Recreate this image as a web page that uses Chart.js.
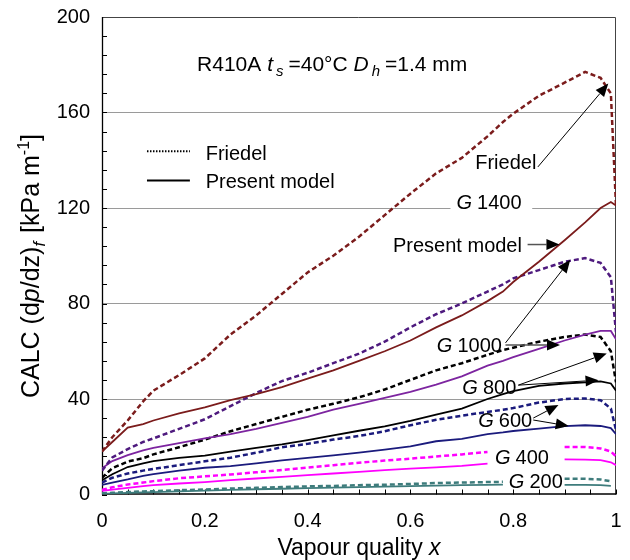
<!DOCTYPE html>
<html>
<head>
<meta charset="utf-8">
<script src="https://cdn.jsdelivr.net/npm/chart.js@4.4.0/dist/chart.umd.min.js"></script>
<style>
  body { margin: 0; background: #fff; }
  #wrap { width: 630px; height: 560px; }
</style>
</head>
<body>
<div id="wrap"><canvas id="chart" width="630" height="560"></canvas></div>
<script>
// Vapour quality grid shared by all curves
const quality = [0, 0.02, 0.05, 0.08, 0.1, 0.15, 0.2, 0.25, 0.3, 0.35, 0.4, 0.45, 0.5,
  0.55, 0.6, 0.65, 0.7, 0.75, 0.78, 0.8, 0.85, 0.9, 0.94, 0.97, 0.99, 1];

// Friedel (dashed) and present model (solid), kPa/m
const friedel1400 = [18, 24, 31, 39, 43.5, 50, 57, 67, 75, 84, 93, 100, 108,
  117, 126, 134.5, 141, 150, 156, 159.5, 167, 172.5, 177, 174.5, 168, 121];
const model1400 = [18, 22, 28, 29.5, 31, 34, 36.5, 39.5, 42, 45, 48.5, 52, 56,
  60, 64.5, 70, 75, 81, 85, 89, 97.5, 106.5, 114, 120, 122.5, 121];
const friedel1000 = [10, 15.5, 19, 22, 23.5, 27.5, 31.5, 37, 42.5, 47.5, 51, 55, 59,
  64, 70, 75.5, 80, 85, 88, 90.5, 94, 97.5, 99, 97, 91, 68];
const model1000 = [11, 14, 16.5, 18.5, 19.5, 21.5, 23.5, 25.3, 27.5, 30, 32.5, 35.5, 38,
  40.5, 43, 46, 49.5, 54, 56, 57.5, 61, 64.5, 67, 68.5, 68.5, 65];
const friedel800 = [7, 11, 13.8, 15.2, 16.8, 19.8, 23, 26.5, 29.5, 32.5, 35.5, 38, 40.7,
  44, 48, 52, 55, 58.5, 60.5, 61.5, 64, 66, 67, 66, 60, 47];
const model800 = [6, 8.5, 11.5, 13, 14, 15.3, 16.3, 18, 19.5, 21, 22.8, 24.8, 26.7,
  28.5, 30.8, 33.5, 36, 40, 42, 43.3, 45.5, 46.5, 47, 47.4, 46.5, 43.5];
const friedel600 = [5, 7, 8.8, 10, 10.7, 12.3, 13.9, 15.4, 17.5, 19.8, 21.2, 23, 24.5,
  26.5, 29, 31.3, 33, 34.6, 35.5, 36.2, 38.5, 40, 40.2, 39.5, 36, 27];
const model600 = [4, 5, 6.3, 7.8, 8.5, 10, 11.2, 11.9, 13, 14.3, 15.3, 16.4, 17.5,
  18.8, 20.2, 22.3, 23.3, 25.3, 26, 26.6, 27.6, 28.6, 29, 28.7, 27.8, 25.3];
const friedel400 = [2, 3, 4.2, 5, 5.6, 6.8, 7.6, 8.4, 9.3, 10.3, 11.3, 12.3, 13.3,
  14.2, 15, 15.9, 16.8, 17.8, null, null, null, 19.9, 19.9, 19.3, 18, 16];
const model400 = [1.5, 2, 2.8, 3.5, 3.9, 4.6, 5.2, 6, 6.7, 7.4, 8.1, 8.8, 9.5,
  10.2, 10.8, 11.4, 12, 12.9, null, null, null, 14.7, 14.6, 14.4, 13.5, 12.3];
const friedel200 = [0.5, 0.7, 1, 1.3, 1.4, 1.8, 2.1, 2.5, 2.8, 3.1, 3.4, 3.6, 3.9,
  4.1, 4.4, 4.8, 5, 5.2, 5.3, null, null, 6.6, 6.6, 6.3, 5.5, null];
const model200 = [0.3, 0.5, 0.7, 0.9, 1, 1.3, 1.6, 1.9, 2.2, 2.4, 2.7, 2.9, 3.1,
  3.3, 3.5, 3.7, 3.9, 4, 4.1, null, null, 4, 4, 3.9, 3.6, null];

const xTickLabels = ['0', '0.2', '0.4', '0.6', '0.8', '1'];
const yTickLabels = ['0', '40', '80', '120', '160', '200'];

const FONT = '"Liberation Sans", Arial, sans-serif';

const toPoints = (ys) => quality.map((x, i) => ({ x: x, y: ys[i] }));

const friedelSet = (label, ys, color) => ({
  label: label, data: toPoints(ys), borderColor: color, borderWidth: 2.5,
  borderDash: [5, 3], pointRadius: 0, tension: 0, spanGaps: false, fill: false,
});
const modelSet = (label, ys, color) => ({
  label: label, data: toPoints(ys), borderColor: color, borderWidth: 1.8,
  pointRadius: 0, tension: 0, spanGaps: false, fill: false,
});

// draw text made of several styled pieces (italic, sub/superscript)
const fontOf = (p) => `${p.i ? 'italic ' : ''}${p.s}px ${FONT}`;
function rich(ctx, parts, x, y, align, size) {
  const base = y + size * 0.36;
  let w = 0;
  parts.forEach((p) => { ctx.font = fontOf(p); w += ctx.measureText(p.t).width + (p.gap || 0); });
  let cx = align === 'center' ? x - w / 2 : align === 'right' ? x - w : x;
  ctx.textAlign = 'left';
  ctx.textBaseline = 'alphabetic';
  parts.forEach((p) => {
    ctx.font = fontOf(p);
    ctx.fillText(p.t, cx, base + (p.dy || 0));
    cx += ctx.measureText(p.t).width + (p.gap || 0);
  });
  return w;
}

function arrow(ctx, x1, y1, x2, y2) {
  const a = Math.atan2(y2 - y1, x2 - x1);
  const len = 13, half = 5.5;
  const bx = x2 - len * Math.cos(a), by = y2 - len * Math.sin(a);
  ctx.beginPath();
  ctx.moveTo(x1, y1);
  ctx.lineTo(bx, by);
  ctx.stroke();
  ctx.beginPath();
  ctx.moveTo(x2, y2);
  ctx.lineTo(bx + half * Math.sin(a), by - half * Math.cos(a));
  ctx.lineTo(bx - half * Math.sin(a), by + half * Math.cos(a));
  ctx.closePath();
  ctx.fill();
}

const gLabel = (num) => [{ t: 'G', i: true, s: 20, gap: 5 }, { t: num, s: 20 }];

// frame, inward ticks, label backgrounds
const framePlugin = {
  id: 'frame',
  beforeDatasetsDraw(chart) {
    const { ctx, chartArea: a, scales } = chart;
    const px = (v) => scales.x.getPixelForValue(v);
    const py = (v) => scales.y.getPixelForValue(v);
    ctx.save();
    ctx.strokeStyle = '#000';
    ctx.lineWidth = 1;
    scales.y.ticks.forEach((t) => {
      const y = Math.round(py(t.value)) + 0.5;
      ctx.beginPath(); ctx.moveTo(a.left, y); ctx.lineTo(a.left + 5, y); ctx.stroke();
    });
    scales.x.ticks.forEach((t) => {
      const x = Math.round(px(t.value)) + 0.5;
      ctx.beginPath(); ctx.moveTo(x, a.bottom); ctx.lineTo(x, a.bottom - 5); ctx.stroke();
    });
    ctx.strokeStyle = '#444';
    ctx.beginPath();
    ctx.moveTo(a.left, a.top + 0.5); ctx.lineTo(a.right - 0.5, a.top + 0.5); ctx.lineTo(a.right - 0.5, a.bottom);
    ctx.stroke();
    ctx.strokeStyle = '#000';
    ctx.lineWidth = 1.3;
    ctx.beginPath();
    ctx.moveTo(a.left + 0.5, a.top); ctx.lineTo(a.left + 0.5, a.bottom - 0.5); ctx.lineTo(a.right, a.bottom - 0.5);
    ctx.stroke();
    // white box behind "G 1400" cuts the grid line
    ctx.fillStyle = '#fff';
    ctx.fillRect(px(0.678), py(122.6) - 11, px(0.837) - px(0.678), 22);
    ctx.restore();
  },
  afterDatasetsDraw(chart) {
    const { ctx, scales } = chart;
    const px = (v) => scales.x.getPixelForValue(v);
    const py = (v) => scales.y.getPixelForValue(v);
    ctx.save();
    ctx.fillStyle = '#000';

    // case description
    rich(ctx, [
      { t: 'R410A ', s: 21 }, { t: 't', i: true, s: 21, gap: 3 }, { t: 's', i: true, s: 15, dy: 5, gap: 5 },
      { t: '=40°C ', s: 21 }, { t: 'D', i: true, s: 21, gap: 3 }, { t: 'h', i: true, s: 15, dy: 5, gap: 5 },
      { t: '=1.4 mm', s: 21 },
    ], px(0.185), py(180.5), 'left', 21);

    // legend
    ctx.strokeStyle = '#000';
    ctx.lineWidth = 2;
    ctx.setLineDash([1.5, 1.5]);
    ctx.beginPath(); ctx.moveTo(px(0.0875), py(143.8)); ctx.lineTo(px(0.171), py(143.8)); ctx.stroke();
    ctx.setLineDash([]);
    ctx.beginPath(); ctx.moveTo(px(0.0875), py(131.5)); ctx.lineTo(px(0.171), py(131.5)); ctx.stroke();
    rich(ctx, [{ t: 'Friedel', s: 20 }], px(0.2017), py(143.3), 'left', 20);
    rich(ctx, [{ t: 'Present model', s: 20 }], px(0.2017), py(131.5), 'left', 20);

    // curve labels
    rich(ctx, [{ t: 'Friedel', s: 20 }], px(0.845), py(139.2), 'right', 20);
    rich(ctx, gLabel('1400'), px(0.753), py(122.6), 'center', 20);
    rich(ctx, [{ t: 'Present model', s: 20 }], px(0.817), py(104.7), 'right', 20);
    rich(ctx, gLabel('1000'), px(0.778), py(62.6), 'right', 20);
    rich(ctx, gLabel('800'), px(0.806), py(45.1), 'right', 20);
    rich(ctx, gLabel('600'), px(0.837), py(31.2), 'right', 20);
    rich(ctx, gLabel('400'), px(0.817), py(15.6), 'center', 20);
    rich(ctx, gLabel('200'), px(0.844), py(5.8), 'center', 20);

    // arrows
    ctx.strokeStyle = '#000';
    ctx.lineWidth = 1;
    arrow(ctx, px(0.848), py(137.2), px(0.985), py(172.1));
    ctx.strokeStyle = '#555';
    ctx.lineWidth = 1.5;
    arrow(ctx, px(0.828), py(104.7), px(0.89), py(104.7));
    ctx.strokeStyle = '#000';
    ctx.lineWidth = 1;
    arrow(ctx, px(0.785), py(63.5), px(0.911), py(98.3));
    ctx.strokeStyle = '#555';
    ctx.lineWidth = 1.5;
    arrow(ctx, px(0.785), py(62.6), px(0.891), py(62.6));
    ctx.strokeStyle = '#000';
    ctx.lineWidth = 1;
    arrow(ctx, px(0.81), py(45.8), px(0.982), py(59.1));
    arrow(ctx, px(0.81), py(45.8), px(0.966), py(47.9));
    arrow(ctx, px(0.839), py(32), px(0.888), py(37.5));
    arrow(ctx, px(0.839), py(31.2), px(0.908), py(28.7));

    // axis titles
    const a = chart.chartArea;
    rich(ctx, [{ t: 'Vapour quality ', s: 23 }, { t: 'x', i: true, s: 23 }],
      (a.left + a.right) / 2, 547, 'center', 23);
    ctx.translate(30, 266);
    ctx.rotate(-Math.PI / 2);
    rich(ctx, [
      { t: 'CALC (d', s: 25 }, { t: 'p', i: true, s: 25 }, { t: '/dz)', s: 25 },
      { t: 'f', i: true, s: 17, dy: 6, gap: 2 }, { t: ' [kPa m', s: 25 },
      { t: '-1', s: 16, dy: -10 }, { t: ']', s: 25 },
    ], 0, 0, 'center', 25);
    ctx.restore();
  },
};

Chart.defaults.font.family = FONT;
Chart.defaults.color = '#000';

new Chart(document.getElementById('chart'), {
  type: 'line',
  data: {
    datasets: [
      friedelSet('Friedel G 1400', friedel1400, '#7b1c1c'),
      modelSet('Present model G 1400', model1400, '#7b1c1c'),
      friedelSet('Friedel G 1000', friedel1000, '#4e1a7e'),
      modelSet('Present model G 1000', model1000, '#7d25a0'),
      friedelSet('Friedel G 800', friedel800, '#000000'),
      modelSet('Present model G 800', model800, '#000000'),
      friedelSet('Friedel G 600', friedel600, '#1b1b7d'),
      modelSet('Present model G 600', model600, '#1b1b7d'),
      friedelSet('Friedel G 400', friedel400, '#ff00ff'),
      modelSet('Present model G 400', model400, '#ff00ff'),
      friedelSet('Friedel G 200', friedel200, '#3e7c7c'),
      modelSet('Present model G 200', model200, '#3e7c7c'),
    ],
  },
  options: {
    responsive: false,
    animation: false,
    layout: { padding: { top: 17, right: 14, left: 0, bottom: 0 } },
    plugins: { legend: { display: false }, tooltip: { enabled: false } },
    scales: {
      x: {
        type: 'linear', min: 0, max: 1,
        afterFit: (s) => { s.height = 65.5; s.paddingLeft = 0; s.paddingRight = 0; },
        grid: { display: false, drawTicks: false },
        border: { display: false },
        ticks: {
          stepSize: 0.05, autoSkip: false, maxRotation: 0, padding: 15,
          font: { size: 20 },
          callback: (v) => {
            const i = Math.round(v * 100);
            return i % 20 === 0 ? xTickLabels[i / 20] : '';
          },
        },
      },
      y: {
        min: 0, max: 200,
        afterFit: (s) => { s.width = 102; s.paddingTop = 0; s.paddingBottom = 0; },
        border: { display: false },
        grid: {
          drawTicks: false,
          color: (c) => {
            const v = c.tick ? c.tick.value : 0;
            return v % 40 === 0 && v > 0 && v < 200 ? '#9a9a9a' : 'rgba(0,0,0,0)';
          },
        },
        ticks: {
          stepSize: 8, autoSkip: false, padding: 12,
          font: { size: 20 },
          callback: (v) => (v % 40 === 0 ? yTickLabels[v / 40] : ''),
        },
      },
    },
  },
  plugins: [framePlugin],
});
</script>
</body>
</html>
